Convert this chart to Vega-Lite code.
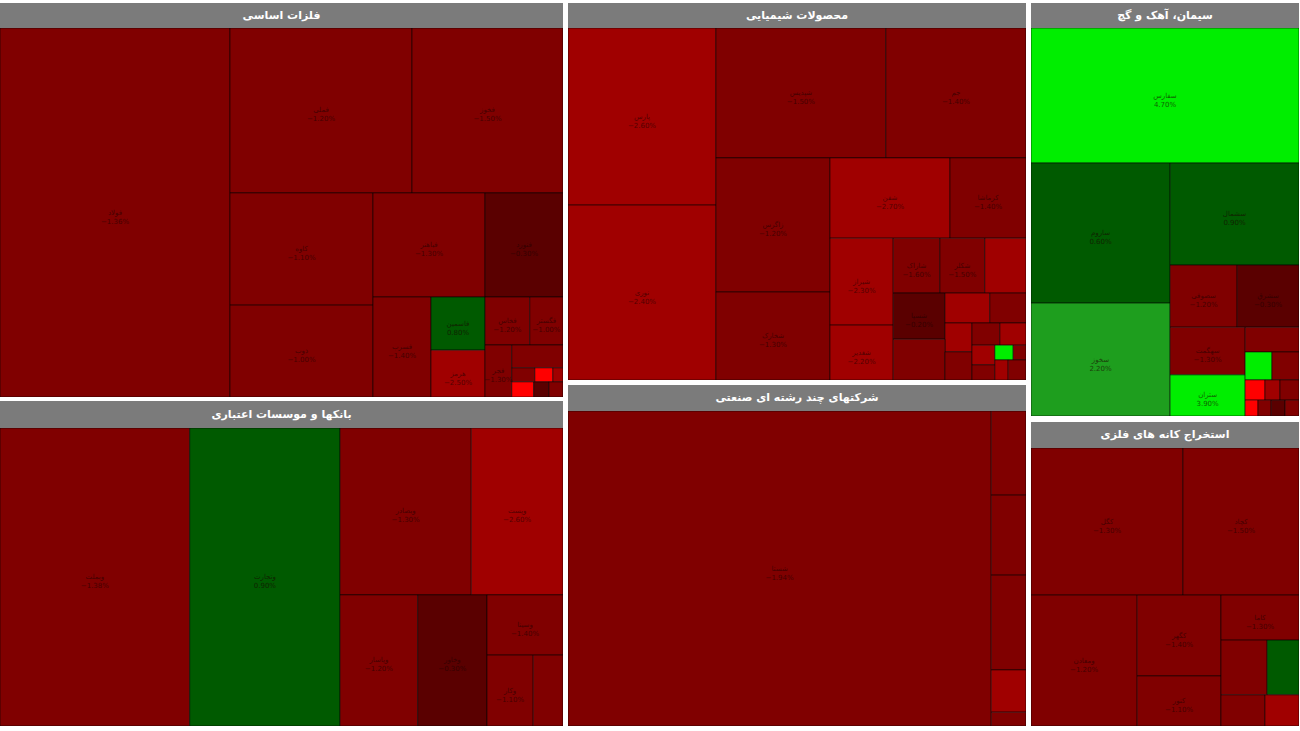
{
  "$schema": "https://vega.github.io/schema/vega-lite/v6.json",
  "padding": {"left": 0, "top": 3, "right": 0, "bottom": 0},
  "background": "white",
  "config": {"view": {"stroke": null}, "text": {"font": "DejaVu Sans"}},
  "datasets": {
    "headers": [
      {"sector": "metals", "title": "فلزات اساسی"},
      {"sector": "chem", "title": "محصولات شیمیایی"},
      {"sector": "cement", "title": "سیمان، آهک و گچ"},
      {"sector": "banks", "title": "بانکها و موسسات اعتباری"},
      {"sector": "multi", "title": "شرکتهای چند رشته ای صنعتی"},
      {"sector": "mining", "title": "استخراج کانه های فلزی"}
    ],
    "cells": [
      {"sector": "metals", "name": "فولاد", "change": -1.36, "x0": 0, "x1": 40.85, "y0": 0, "y1": 100},
      {"sector": "metals", "name": "فملی", "change": -1.2, "x0": 40.85, "x1": 73.18, "y0": 0, "y1": 44.7},
      {"sector": "metals", "name": "فخوز", "change": -1.5, "x0": 73.18, "x1": 100, "y0": 0, "y1": 44.7},
      {"sector": "metals", "name": "کاوه", "change": -1.1, "x0": 40.85, "x1": 66.25, "y0": 44.7, "y1": 75.1},
      {"sector": "metals", "name": "ذوب", "change": -1.0, "x0": 40.85, "x1": 66.25, "y0": 75.1, "y1": 100},
      {"sector": "metals", "name": "فباهنر", "change": -1.3, "x0": 66.25, "x1": 86.15, "y0": 44.7, "y1": 72.9},
      {"sector": "metals", "name": "فنورد", "change": -0.3, "x0": 86.15, "x1": 100, "y0": 44.7, "y1": 72.9},
      {"sector": "metals", "name": "فسرب", "change": -1.4, "x0": 66.25, "x1": 76.55, "y0": 72.9, "y1": 100},
      {"sector": "metals", "name": "فاسمین", "change": 0.8, "x0": 76.55, "x1": 86.15, "y0": 72.9, "y1": 87.3},
      {"sector": "metals", "name": "هرمز", "change": -2.5, "x0": 76.55, "x1": 86.15, "y0": 87.3, "y1": 100},
      {"sector": "metals", "name": "فخاس", "change": -1.2, "x0": 86.15, "x1": 94.1, "y0": 72.9, "y1": 85.9},
      {"sector": "metals", "name": "فگستر", "change": -1.0, "x0": 94.1, "x1": 100, "y0": 72.9, "y1": 85.9},
      {"sector": "metals", "name": "فجر", "change": -1.3, "x0": 86.15, "x1": 90.9, "y0": 85.9, "y1": 100},
      {"sector": "metals", "name": "", "change": -1.1, "x0": 90.9, "x1": 100, "y0": 85.9, "y1": 92.1},
      {"sector": "metals", "name": "", "change": -1.6, "x0": 90.9, "x1": 95.0, "y0": 92.1, "y1": 95.9},
      {"sector": "metals", "name": "", "change": -4.0, "x0": 95.0, "x1": 98.2, "y0": 92.1, "y1": 95.9},
      {"sector": "metals", "name": "", "change": -2.5, "x0": 98.2, "x1": 100, "y0": 92.1, "y1": 95.9},
      {"sector": "metals", "name": "", "change": -4.5, "x0": 90.9, "x1": 94.8, "y0": 95.9, "y1": 100},
      {"sector": "metals", "name": "", "change": -0.4, "x0": 94.8, "x1": 97.5, "y0": 95.9, "y1": 100},
      {"sector": "metals", "name": "", "change": -1.0, "x0": 97.5, "x1": 100, "y0": 95.9, "y1": 100},

      {"sector": "chem", "name": "پارس", "change": -2.6, "x0": 0, "x1": 32.3, "y0": 0, "y1": 50.3},
      {"sector": "chem", "name": "نوری", "change": -2.4, "x0": 0, "x1": 32.3, "y0": 50.3, "y1": 100},
      {"sector": "chem", "name": "شپدیس", "change": -1.5, "x0": 32.3, "x1": 69.4, "y0": 0, "y1": 36.9},
      {"sector": "chem", "name": "جم", "change": -1.4, "x0": 69.4, "x1": 100, "y0": 0, "y1": 36.9},
      {"sector": "chem", "name": "زاگرس", "change": -1.2, "x0": 32.3, "x1": 57.2, "y0": 36.9, "y1": 75.0},
      {"sector": "chem", "name": "شخارک", "change": -1.3, "x0": 32.3, "x1": 57.2, "y0": 75.0, "y1": 100},
      {"sector": "chem", "name": "شفن", "change": -2.7, "x0": 57.2, "x1": 83.4, "y0": 36.9, "y1": 59.7},
      {"sector": "chem", "name": "کرماشا", "change": -1.4, "x0": 83.4, "x1": 100, "y0": 36.9, "y1": 59.7},
      {"sector": "chem", "name": "شیراز", "change": -2.3, "x0": 57.2, "x1": 71.0, "y0": 59.7, "y1": 84.4},
      {"sector": "chem", "name": "شغدیر", "change": -2.2, "x0": 57.2, "x1": 71.0, "y0": 84.4, "y1": 100},
      {"sector": "chem", "name": "شاراک", "change": -1.6, "x0": 71.0, "x1": 81.2, "y0": 59.7, "y1": 75.3},
      {"sector": "chem", "name": "شکلر", "change": -1.5, "x0": 81.2, "x1": 91.0, "y0": 59.7, "y1": 75.3},
      {"sector": "chem", "name": "", "change": -2.5, "x0": 91.0, "x1": 100, "y0": 59.7, "y1": 75.3},
      {"sector": "chem", "name": "شسپا", "change": -0.2, "x0": 71.0, "x1": 82.3, "y0": 75.3, "y1": 88.4},
      {"sector": "chem", "name": "", "change": -2.1, "x0": 82.3, "x1": 92.1, "y0": 75.3, "y1": 83.8},
      {"sector": "chem", "name": "", "change": -1.7, "x0": 92.1, "x1": 100, "y0": 75.3, "y1": 83.8},
      {"sector": "chem", "name": "", "change": -2.4, "x0": 82.3, "x1": 88.2, "y0": 83.8, "y1": 92.0},
      {"sector": "chem", "name": "", "change": -1.8, "x0": 88.2, "x1": 94.3, "y0": 83.8, "y1": 90.1},
      {"sector": "chem", "name": "", "change": -2.6, "x0": 94.3, "x1": 100, "y0": 83.8, "y1": 90.1},
      {"sector": "chem", "name": "", "change": -1.9, "x0": 71.0, "x1": 82.3, "y0": 88.4, "y1": 100},
      {"sector": "chem", "name": "", "change": -1.5, "x0": 82.3, "x1": 88.2, "y0": 92.0, "y1": 100},
      {"sector": "chem", "name": "", "change": -2.3, "x0": 88.2, "x1": 93.2, "y0": 90.1, "y1": 95.7},
      {"sector": "chem", "name": "", "change": 4.0, "x0": 93.2, "x1": 97.2, "y0": 90.1, "y1": 94.3},
      {"sector": "chem", "name": "", "change": -1.6, "x0": 97.2, "x1": 100, "y0": 90.1, "y1": 94.3},
      {"sector": "chem", "name": "", "change": -1.8, "x0": 88.2, "x1": 93.2, "y0": 95.7, "y1": 100},
      {"sector": "chem", "name": "", "change": -2.4, "x0": 93.2, "x1": 96.1, "y0": 94.3, "y1": 100},
      {"sector": "chem", "name": "", "change": -1.7, "x0": 96.1, "x1": 100, "y0": 94.3, "y1": 100},

      {"sector": "cement", "name": "سفارس", "change": 4.7, "x0": 0, "x1": 100, "y0": 0, "y1": 34.8},
      {"sector": "cement", "name": "ساروم", "change": 0.6, "x0": 0, "x1": 51.9, "y0": 34.8, "y1": 70.9},
      {"sector": "cement", "name": "سشمال", "change": 0.9, "x0": 51.9, "x1": 100, "y0": 34.8, "y1": 61.1},
      {"sector": "cement", "name": "سخوز", "change": 2.2, "x0": 0, "x1": 51.9, "y0": 70.9, "y1": 100},
      {"sector": "cement", "name": "سصوفی", "change": -1.2, "x0": 51.9, "x1": 76.9, "y0": 61.1, "y1": 77.1},
      {"sector": "cement", "name": "سشرق", "change": -0.3, "x0": 76.9, "x1": 100, "y0": 61.1, "y1": 77.1},
      {"sector": "cement", "name": "سهگمت", "change": -1.3, "x0": 51.9, "x1": 79.9, "y0": 77.1, "y1": 89.4},
      {"sector": "cement", "name": "", "change": -1.1, "x0": 79.9, "x1": 100, "y0": 77.1, "y1": 83.5},
      {"sector": "cement", "name": "ستران", "change": 3.9, "x0": 51.9, "x1": 79.9, "y0": 89.4, "y1": 100},
      {"sector": "cement", "name": "", "change": 4.5, "x0": 79.9, "x1": 89.9, "y0": 83.5, "y1": 90.7},
      {"sector": "cement", "name": "", "change": -1.0, "x0": 89.9, "x1": 100, "y0": 83.5, "y1": 90.7},
      {"sector": "cement", "name": "", "change": -4.2, "x0": 79.9, "x1": 87.3, "y0": 90.7, "y1": 95.9},
      {"sector": "cement", "name": "", "change": -2.4, "x0": 87.3, "x1": 92.9, "y0": 90.7, "y1": 95.9},
      {"sector": "cement", "name": "", "change": -1.2, "x0": 92.9, "x1": 100, "y0": 90.7, "y1": 95.9},
      {"sector": "cement", "name": "", "change": -4.0, "x0": 79.9, "x1": 84.7, "y0": 95.9, "y1": 100},
      {"sector": "cement", "name": "", "change": -1.4, "x0": 84.7, "x1": 89.6, "y0": 95.9, "y1": 100},
      {"sector": "cement", "name": "", "change": -0.2, "x0": 89.6, "x1": 94.8, "y0": 95.9, "y1": 100},
      {"sector": "cement", "name": "", "change": -1.1, "x0": 94.8, "x1": 100, "y0": 95.9, "y1": 100},

      {"sector": "banks", "name": "وبملت", "change": -1.38, "x0": 0, "x1": 33.7, "y0": 0, "y1": 100},
      {"sector": "banks", "name": "وتجارت", "change": 0.9, "x0": 33.7, "x1": 60.4, "y0": 0, "y1": 100},
      {"sector": "banks", "name": "وبصادر", "change": -1.3, "x0": 60.4, "x1": 83.7, "y0": 0, "y1": 56.0},
      {"sector": "banks", "name": "وپست", "change": -2.6, "x0": 83.7, "x1": 100, "y0": 0, "y1": 56.0},
      {"sector": "banks", "name": "وپاسار", "change": -1.2, "x0": 60.4, "x1": 74.2, "y0": 56.0, "y1": 100},
      {"sector": "banks", "name": "وخاور", "change": -0.3, "x0": 74.2, "x1": 86.5, "y0": 56.0, "y1": 100},
      {"sector": "banks", "name": "وسینا", "change": -1.4, "x0": 86.5, "x1": 100, "y0": 56.0, "y1": 76.2},
      {"sector": "banks", "name": "وکار", "change": -1.1, "x0": 86.5, "x1": 94.7, "y0": 76.2, "y1": 100},
      {"sector": "banks", "name": "", "change": -1.5, "x0": 94.7, "x1": 100, "y0": 76.2, "y1": 100},

      {"sector": "multi", "name": "شستا", "change": -1.94, "x0": 0, "x1": 92.4, "y0": 0, "y1": 100},
      {"sector": "multi", "name": "", "change": -1.3, "x0": 92.4, "x1": 100, "y0": 0, "y1": 26.7},
      {"sector": "multi", "name": "", "change": -1.2, "x0": 92.4, "x1": 100, "y0": 26.7, "y1": 52.1},
      {"sector": "multi", "name": "", "change": -1.4, "x0": 92.4, "x1": 100, "y0": 52.1, "y1": 82.2},
      {"sector": "multi", "name": "", "change": -2.5, "x0": 92.4, "x1": 100, "y0": 82.2, "y1": 95.6},
      {"sector": "multi", "name": "", "change": -1.1, "x0": 92.4, "x1": 100, "y0": 95.6, "y1": 100},

      {"sector": "mining", "name": "کگل", "change": -1.3, "x0": 0, "x1": 56.7, "y0": 0, "y1": 52.9},
      {"sector": "mining", "name": "کچاد", "change": -1.5, "x0": 56.7, "x1": 100, "y0": 0, "y1": 52.9},
      {"sector": "mining", "name": "ومعادن", "change": -1.2, "x0": 0, "x1": 39.6, "y0": 52.9, "y1": 100},
      {"sector": "mining", "name": "کگهر", "change": -1.4, "x0": 39.6, "x1": 70.9, "y0": 52.9, "y1": 82.0},
      {"sector": "mining", "name": "کنور", "change": -1.1, "x0": 39.6, "x1": 70.9, "y0": 82.0, "y1": 100},
      {"sector": "mining", "name": "کاما", "change": -1.3, "x0": 70.9, "x1": 100, "y0": 52.9, "y1": 69.1},
      {"sector": "mining", "name": "", "change": -1.2, "x0": 70.9, "x1": 88.1, "y0": 69.1, "y1": 88.8},
      {"sector": "mining", "name": "", "change": 0.7, "x0": 88.1, "x1": 100, "y0": 69.1, "y1": 88.8},
      {"sector": "mining", "name": "", "change": -1.4, "x0": 70.9, "x1": 87.3, "y0": 88.8, "y1": 100},
      {"sector": "mining", "name": "", "change": -2.3, "x0": 87.3, "x1": 100, "y0": 88.8, "y1": 100}
    ]
  },
  "hconcat": [
    {
      "spacing": 4,
      "vconcat": [
        {
          "spacing": 0,
          "vconcat": [
            {"width": 563, "height": 25, "view": {"fill": "#7b7b7b", "stroke": null}, "data": {"name": "headers"}, "transform": [{"filter": "datum.sector == 'metals'"}], "mark": {"type": "text", "fontWeight": "bold", "fontSize": 11, "color": "white", "clip": true}, "encoding": {"text": {"field": "title"}}},
            {"width": 563, "height": 369, "data": {"name": "cells"},
             "transform": [{"filter": "datum.sector == 'metals'"}, {"calculate": "(datum.x0 + datum.x1) / 2", "as": "xm"}, {"calculate": "(datum.y0 + datum.y1) / 2", "as": "ym"}, {"calculate": "datum.name == '' ? '' : datum.name + '\\n' + format(datum.change, '.2f') + '%'", "as": "label"}],
             "layer": [
               {"mark": {"type": "rect", "stroke": "#000000", "strokeOpacity": 0.55, "strokeWidth": 1, "clip": true},
                "encoding": {
                  "x": {"field": "x0", "type": "quantitative", "scale": {"domain": [0, 100], "nice": false, "zero": false}, "axis": null},
                  "x2": {"field": "x1"},
                  "y": {"field": "y0", "type": "quantitative", "scale": {"domain": [0, 100], "nice": false, "zero": false, "reverse": true}, "axis": null},
                  "y2": {"field": "y1"},
                  "color": {"field": "change", "type": "quantitative", "scale": {"type": "threshold", "domain": [-3, -2, -0.5, 0, 1.5, 3], "range": ["#ff0000", "#a00000", "#800000", "#5a0000", "#005a00", "#1e9e1e", "#00ee00"]}, "legend": null}
                }},
               {"mark": {"type": "text", "fontSize": 7, "color": "#1a0000", "opacity": 0.6, "lineBreak": "\n", "clip": true},
                "encoding": {
                  "x": {"field": "xm", "type": "quantitative"},
                  "y": {"field": "ym", "type": "quantitative"},
                  "text": {"field": "label"}
                }}
             ]}
          ]
        },
        {
          "spacing": 0,
          "vconcat": [
            {"width": 563, "height": 27, "view": {"fill": "#7b7b7b", "stroke": null}, "data": {"name": "headers"}, "transform": [{"filter": "datum.sector == 'banks'"}], "mark": {"type": "text", "fontWeight": "bold", "fontSize": 11, "color": "white", "clip": true}, "encoding": {"text": {"field": "title"}}},
            {"width": 563, "height": 298, "data": {"name": "cells"},
             "transform": [{"filter": "datum.sector == 'banks'"}, {"calculate": "(datum.x0 + datum.x1) / 2", "as": "xm"}, {"calculate": "(datum.y0 + datum.y1) / 2", "as": "ym"}, {"calculate": "datum.name == '' ? '' : datum.name + '\\n' + format(datum.change, '.2f') + '%'", "as": "label"}],
             "layer": [
               {"mark": {"type": "rect", "stroke": "#000000", "strokeOpacity": 0.55, "strokeWidth": 1, "clip": true},
                "encoding": {
                  "x": {"field": "x0", "type": "quantitative", "scale": {"domain": [0, 100], "nice": false, "zero": false}, "axis": null},
                  "x2": {"field": "x1"},
                  "y": {"field": "y0", "type": "quantitative", "scale": {"domain": [0, 100], "nice": false, "zero": false, "reverse": true}, "axis": null},
                  "y2": {"field": "y1"},
                  "color": {"field": "change", "type": "quantitative", "scale": {"type": "threshold", "domain": [-3, -2, -0.5, 0, 1.5, 3], "range": ["#ff0000", "#a00000", "#800000", "#5a0000", "#005a00", "#1e9e1e", "#00ee00"]}, "legend": null}
                }},
               {"mark": {"type": "text", "fontSize": 7, "color": "#1a0000", "opacity": 0.6, "lineBreak": "\n", "clip": true},
                "encoding": {
                  "x": {"field": "xm", "type": "quantitative"},
                  "y": {"field": "ym", "type": "quantitative"},
                  "text": {"field": "label"}
                }}
             ]}
          ]
        }
      ],
      "resolve": {"scale": {"x": "independent", "y": "independent"}}
    },
    {
      "spacing": 5,
      "vconcat": [
        {
          "spacing": 0,
          "vconcat": [
            {"width": 458, "height": 25, "view": {"fill": "#7b7b7b", "stroke": null}, "data": {"name": "headers"}, "transform": [{"filter": "datum.sector == 'chem'"}], "mark": {"type": "text", "fontWeight": "bold", "fontSize": 11, "color": "white", "clip": true}, "encoding": {"text": {"field": "title"}}},
            {"width": 458, "height": 352, "data": {"name": "cells"},
             "transform": [{"filter": "datum.sector == 'chem'"}, {"calculate": "(datum.x0 + datum.x1) / 2", "as": "xm"}, {"calculate": "(datum.y0 + datum.y1) / 2", "as": "ym"}, {"calculate": "datum.name == '' ? '' : datum.name + '\\n' + format(datum.change, '.2f') + '%'", "as": "label"}],
             "layer": [
               {"mark": {"type": "rect", "stroke": "#000000", "strokeOpacity": 0.55, "strokeWidth": 1, "clip": true},
                "encoding": {
                  "x": {"field": "x0", "type": "quantitative", "scale": {"domain": [0, 100], "nice": false, "zero": false}, "axis": null},
                  "x2": {"field": "x1"},
                  "y": {"field": "y0", "type": "quantitative", "scale": {"domain": [0, 100], "nice": false, "zero": false, "reverse": true}, "axis": null},
                  "y2": {"field": "y1"},
                  "color": {"field": "change", "type": "quantitative", "scale": {"type": "threshold", "domain": [-3, -2, -0.5, 0, 1.5, 3], "range": ["#ff0000", "#a00000", "#800000", "#5a0000", "#005a00", "#1e9e1e", "#00ee00"]}, "legend": null}
                }},
               {"mark": {"type": "text", "fontSize": 7, "color": "#1a0000", "opacity": 0.6, "lineBreak": "\n", "clip": true},
                "encoding": {
                  "x": {"field": "xm", "type": "quantitative"},
                  "y": {"field": "ym", "type": "quantitative"},
                  "text": {"field": "label"}
                }}
             ]}
          ]
        },
        {
          "spacing": 0,
          "vconcat": [
            {"width": 458, "height": 26, "view": {"fill": "#7b7b7b", "stroke": null}, "data": {"name": "headers"}, "transform": [{"filter": "datum.sector == 'multi'"}], "mark": {"type": "text", "fontWeight": "bold", "fontSize": 11, "color": "white", "clip": true}, "encoding": {"text": {"field": "title"}}},
            {"width": 458, "height": 315, "data": {"name": "cells"},
             "transform": [{"filter": "datum.sector == 'multi'"}, {"calculate": "(datum.x0 + datum.x1) / 2", "as": "xm"}, {"calculate": "(datum.y0 + datum.y1) / 2", "as": "ym"}, {"calculate": "datum.name == '' ? '' : datum.name + '\\n' + format(datum.change, '.2f') + '%'", "as": "label"}],
             "layer": [
               {"mark": {"type": "rect", "stroke": "#000000", "strokeOpacity": 0.55, "strokeWidth": 1, "clip": true},
                "encoding": {
                  "x": {"field": "x0", "type": "quantitative", "scale": {"domain": [0, 100], "nice": false, "zero": false}, "axis": null},
                  "x2": {"field": "x1"},
                  "y": {"field": "y0", "type": "quantitative", "scale": {"domain": [0, 100], "nice": false, "zero": false, "reverse": true}, "axis": null},
                  "y2": {"field": "y1"},
                  "color": {"field": "change", "type": "quantitative", "scale": {"type": "threshold", "domain": [-3, -2, -0.5, 0, 1.5, 3], "range": ["#ff0000", "#a00000", "#800000", "#5a0000", "#005a00", "#1e9e1e", "#00ee00"]}, "legend": null}
                }},
               {"mark": {"type": "text", "fontSize": 7, "color": "#1a0000", "opacity": 0.6, "lineBreak": "\n", "clip": true},
                "encoding": {
                  "x": {"field": "xm", "type": "quantitative"},
                  "y": {"field": "ym", "type": "quantitative"},
                  "text": {"field": "label"}
                }}
             ]}
          ]
        }
      ],
      "resolve": {"scale": {"x": "independent", "y": "independent"}}
    },
    {
      "spacing": 6,
      "vconcat": [
        {
          "spacing": 0,
          "vconcat": [
            {"width": 268, "height": 25, "view": {"fill": "#7b7b7b", "stroke": null}, "data": {"name": "headers"}, "transform": [{"filter": "datum.sector == 'cement'"}], "mark": {"type": "text", "fontWeight": "bold", "fontSize": 11, "color": "white", "clip": true}, "encoding": {"text": {"field": "title"}}},
            {"width": 268, "height": 388, "data": {"name": "cells"},
             "transform": [{"filter": "datum.sector == 'cement'"}, {"calculate": "(datum.x0 + datum.x1) / 2", "as": "xm"}, {"calculate": "(datum.y0 + datum.y1) / 2", "as": "ym"}, {"calculate": "datum.name == '' ? '' : datum.name + '\\n' + format(datum.change, '.2f') + '%'", "as": "label"}],
             "layer": [
               {"mark": {"type": "rect", "stroke": "#000000", "strokeOpacity": 0.55, "strokeWidth": 1, "clip": true},
                "encoding": {
                  "x": {"field": "x0", "type": "quantitative", "scale": {"domain": [0, 100], "nice": false, "zero": false}, "axis": null},
                  "x2": {"field": "x1"},
                  "y": {"field": "y0", "type": "quantitative", "scale": {"domain": [0, 100], "nice": false, "zero": false, "reverse": true}, "axis": null},
                  "y2": {"field": "y1"},
                  "color": {"field": "change", "type": "quantitative", "scale": {"type": "threshold", "domain": [-3, -2, -0.5, 0, 1.5, 3], "range": ["#ff0000", "#a00000", "#800000", "#5a0000", "#005a00", "#1e9e1e", "#00ee00"]}, "legend": null}
                }},
               {"mark": {"type": "text", "fontSize": 7, "color": "#1a0000", "opacity": 0.6, "lineBreak": "\n", "clip": true},
                "encoding": {
                  "x": {"field": "xm", "type": "quantitative"},
                  "y": {"field": "ym", "type": "quantitative"},
                  "text": {"field": "label"}
                }}
             ]}
          ]
        },
        {
          "spacing": 0,
          "vconcat": [
            {"width": 268, "height": 26, "view": {"fill": "#7b7b7b", "stroke": null}, "data": {"name": "headers"}, "transform": [{"filter": "datum.sector == 'mining'"}], "mark": {"type": "text", "fontWeight": "bold", "fontSize": 11, "color": "white", "clip": true}, "encoding": {"text": {"field": "title"}}},
            {"width": 268, "height": 278, "data": {"name": "cells"},
             "transform": [{"filter": "datum.sector == 'mining'"}, {"calculate": "(datum.x0 + datum.x1) / 2", "as": "xm"}, {"calculate": "(datum.y0 + datum.y1) / 2", "as": "ym"}, {"calculate": "datum.name == '' ? '' : datum.name + '\\n' + format(datum.change, '.2f') + '%'", "as": "label"}],
             "layer": [
               {"mark": {"type": "rect", "stroke": "#000000", "strokeOpacity": 0.55, "strokeWidth": 1, "clip": true},
                "encoding": {
                  "x": {"field": "x0", "type": "quantitative", "scale": {"domain": [0, 100], "nice": false, "zero": false}, "axis": null},
                  "x2": {"field": "x1"},
                  "y": {"field": "y0", "type": "quantitative", "scale": {"domain": [0, 100], "nice": false, "zero": false, "reverse": true}, "axis": null},
                  "y2": {"field": "y1"},
                  "color": {"field": "change", "type": "quantitative", "scale": {"type": "threshold", "domain": [-3, -2, -0.5, 0, 1.5, 3], "range": ["#ff0000", "#a00000", "#800000", "#5a0000", "#005a00", "#1e9e1e", "#00ee00"]}, "legend": null}
                }},
               {"mark": {"type": "text", "fontSize": 7, "color": "#1a0000", "opacity": 0.6, "lineBreak": "\n", "clip": true},
                "encoding": {
                  "x": {"field": "xm", "type": "quantitative"},
                  "y": {"field": "ym", "type": "quantitative"},
                  "text": {"field": "label"}
                }}
             ]}
          ]
        }
      ],
      "resolve": {"scale": {"x": "independent", "y": "independent"}}
    }
  ],
  "spacing": 5,
  "resolve": {"scale": {"x": "independent", "y": "independent"}}
}
